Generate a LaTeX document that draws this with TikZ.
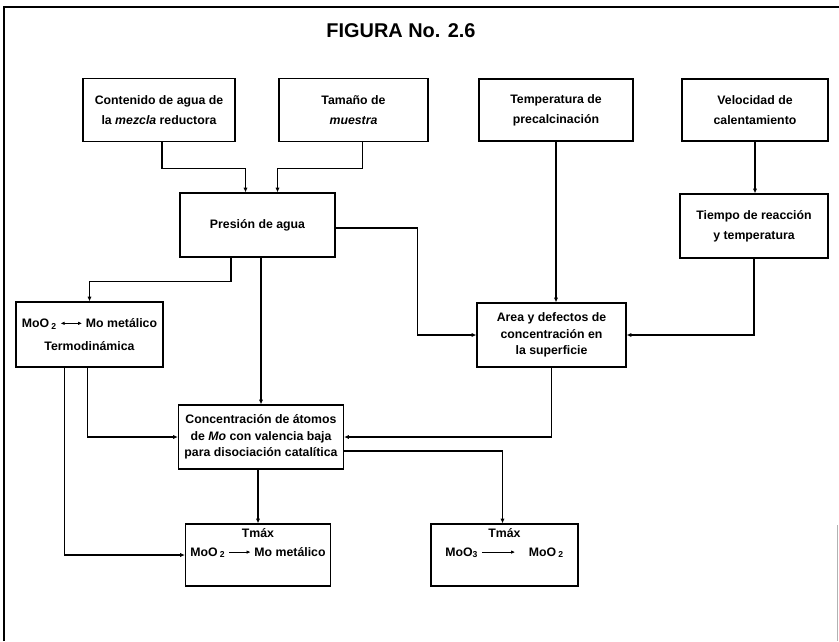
\documentclass[tikz,border=0pt]{standalone}
\usepackage{fontspec}
\setmainfont{Liberation Sans}
\usepackage{tikz}
\usetikzlibrary{positioning, calc, arrows.meta}

% kleine Reaktionspfeile im Text
\newcommand{\rpfeil}[1]{\tikz[baseline=-0.6ex]\draw[line width=0.7pt, -{Latex[length=3.5pt,width=3pt]}] (0pt,0pt) -- (#1,0pt);}
\newcommand{\dpfeil}[1]{\tikz[baseline=-0.6ex]\draw[line width=0.7pt, {Latex[length=3.5pt,width=3pt]}-{Latex[length=3.5pt,width=3pt]}] (0pt,0pt) -- (#1,0pt);}

\begin{document}
\begin{tikzpicture}[x=0.03cm, y=-0.03cm,
    every node/.style={font=\bfseries\fontsize{10.5}{14}\selectfont},
    block/.style={draw, line width=1pt, align=center, inner sep=0pt},
    arr/.style={line width=1pt, -{Latex[length=4pt,width=3.5pt]}}]
  \useasboundingbox (0,0) rectangle (839,641);

  % Rahmen
  \draw[line width=1pt] (4,641) -- (4,7) -- (839,7);
  \draw[line width=0.6pt, gray!60] (837,525) -- (837,641);

  % Titel
  \node[font=\bfseries\fontsize{17}{20}\selectfont] (title) at (401,31) {FIGURA No. 2.6};

  % obere Reihe
  \node[block, minimum width=4.56cm, minimum height=1.89cm] (cont) at (159,110)
    {Contenido de agua de\\[3pt] la \textit{mezcla} reductora};
  \node[block, minimum width=4.47cm, minimum height=1.89cm] (tam) at (353.5,110)
    {Tamaño de\\[3pt] \textit{muestra}};
  \node[block, minimum width=4.62cm, minimum height=1.86cm] (temp) at (556,110)
    {Temperatura de\\[3pt] precalcinación};
  \node[block, minimum width=4.38cm, minimum height=1.86cm] (vel) at (755,110)
    {Velocidad de\\[3pt] calentamiento};

  % zweite Reihe
  \node[block, minimum width=4.65cm, minimum height=1.92cm] (pres) at (257.5,225) {Presión de agua};
  \node[block, minimum width=4.44cm, minimum height=1.92cm] (tiem) at (754,226)
    {Tiempo de reacción\\[3pt] y temperatura};

  % dritte Reihe
  \node[block, minimum width=4.41cm, minimum height=1.95cm] (moo) at (89.5,334.5)
    {MoO\,\textsubscript{2} \dpfeil{0.65cm} Mo metálico\\[6pt] Termodinámica};
  \node[block, minimum width=4.47cm, minimum height=1.92cm] (area) at (551.5,335)
    {Area y defectos de\\ concentración en\\ la superficie};

  % Konzentration
  \node[block, minimum width=4.95cm, minimum height=1.92cm] (conc) at (261,437)
    {Concentración de átomos\\ de \textit{Mo} con valencia baja\\ para disociación catalítica};

  % Tmax
  \node[block, minimum width=4.35cm, minimum height=1.86cm] (tm1) at (258,555)
    {Tmáx\\[2pt] MoO\,\textsubscript{2} \rpfeil{0.65cm} Mo metálico\\[8pt]};
  \node[block, minimum width=4.41cm, minimum height=1.86cm] (tm2) at (504.5,555)
    {Tmáx\\[2pt] MoO\textsubscript{3} \rpfeil{1cm}\hspace{0.8em} MoO\,\textsubscript{2}\\[8pt]};

  % Pfeile
  \draw[arr] ($(cont.south)+(3,0)$) -- ++(0,26) -| ($(pres.north)+(-12,0)$);
  \draw[arr] ($(tam.south)+(9,0)$) -- ++(0,26) -| ($(pres.north)+(20,0)$);
  \draw[arr] (temp.south) -- (temp.south |- area.north);
  \draw[arr] (vel.south) -- (vel.south |- tiem.north);
  \draw[arr] (tiem.south) |- (area.east);
  \draw[arr] ($(pres.east)+(0,3)$) -| ($(area.west)+(-59,0)$) -- (area.west);
  \draw[arr] ($(pres.south)+(-26.5,0)$) -- ++(0,24) -| (moo.north);
  \draw[arr] ($(pres.south)+(3.5,0)$) -- (conc.north);
  \draw[arr] ($(moo.south)+(-2,0)$) |- (conc.west);
  \draw[arr] ($(moo.south)+(-25,0)$) |- (tm1.west);
  \draw[arr] (area.south) |- (conc.east);
  \draw[arr] ($(conc.south)+(-3,0)$) -- (tm1.north);
  \draw[arr] ($(conc.east)+(0,14)$) -| ($(tm2.north)+(-2,0)$);

\end{tikzpicture}
\end{document}
